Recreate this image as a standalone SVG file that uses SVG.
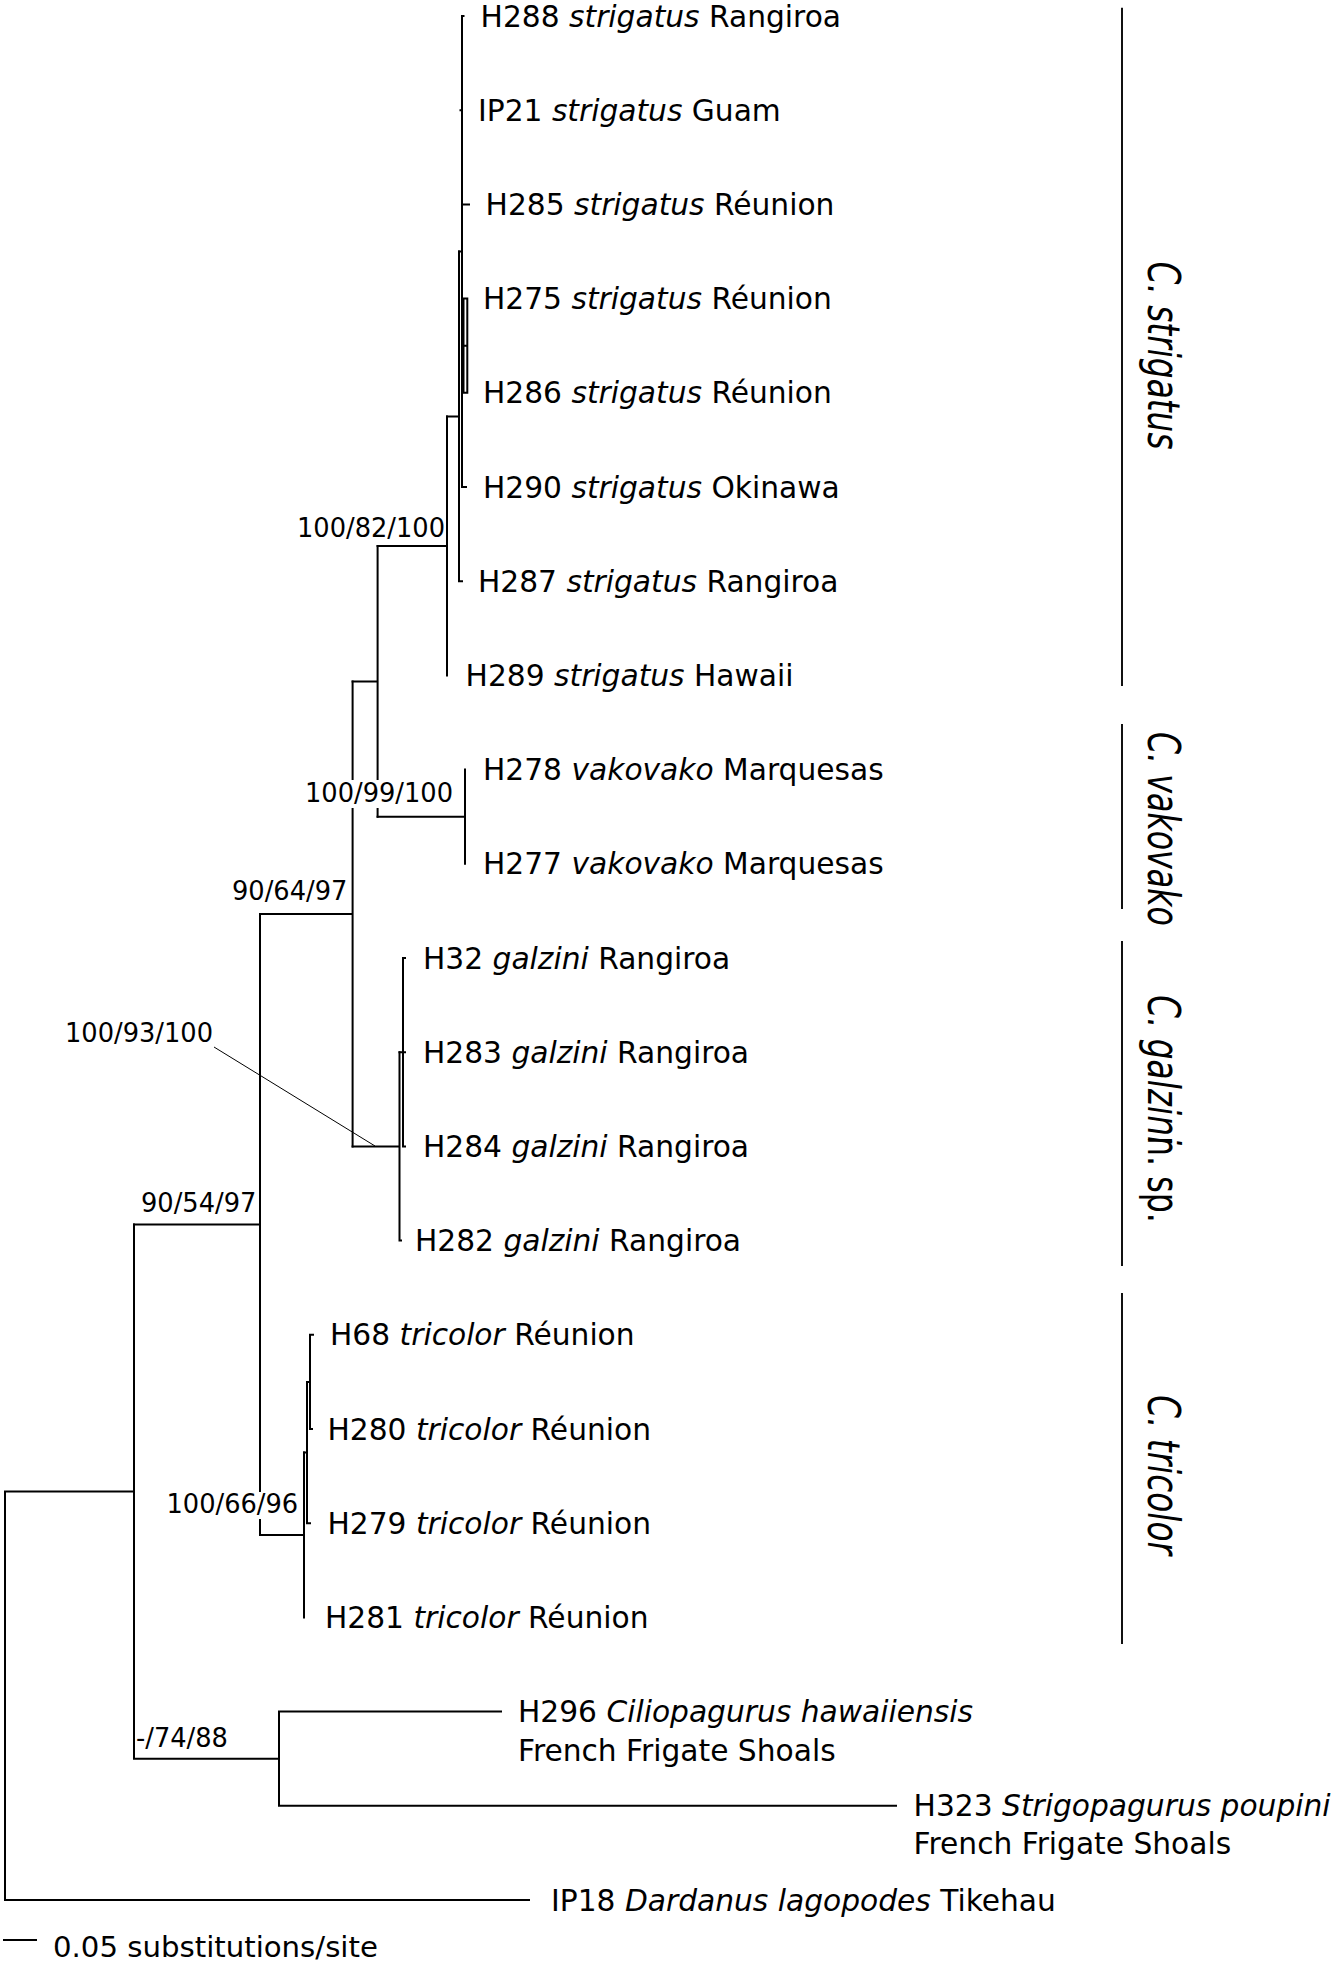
<svg xmlns="http://www.w3.org/2000/svg" width="1334" height="1968" viewBox="0 0 1334 1968">
<style>
text{font-family:"DejaVu Sans","Liberation Sans",sans-serif;fill:#000}
.tip{font-size:29.7px}
.sc{font-size:29.2px}
.sup{font-size:25.7px}
.i{font-style:italic}
.clade{font-size:44px;font-style:italic}
.up{font-style:normal}
.br{fill:none;stroke:#000;stroke-width:2;stroke-linecap:square}
.bar{fill:none;stroke:#111;stroke-width:2}
.lead{fill:none;stroke:#000;stroke-width:1}
.mask{fill:#fff;stroke:none}
</style>
<rect width="1334" height="1968" fill="#fff"/>
<g id="connectors">
<path class="br" d="M5,1491.5 V1900 H529 M5,1491.5 H134"/>
<path class="br" d="M134,1224.4 V1758.7 M134,1758.7 H279 M279,1711.6 V1805.8 M279,1711.6 H501 M279,1805.8 H896"/>
<path class="br" d="M134,1224.4 H260 M260,913.9 V1535"/>
<path class="br" d="M260,1535 H304 M304,1452.5 V1617.4"/>
<path class="br" d="M304,1452.5 H307 M307,1381.9 V1523.2 M307,1523.2 H310"/>
<path class="br" d="M307,1381.9 H310 M310,1334.8 V1429 M310,1334.8 H313 M310,1429 H312"/>
<path class="br" d="M260,913.9 H352.6 M352.6,681.4 V1146.4"/>
<path class="br" d="M352.6,1146.4 H399.5 M399.5,1052.2 V1240.6 M399.5,1240.6 H401"/>
<path class="br" d="M399.5,1052.2 H403 M403,958 V1146.4 M403,958 H405 M403,1052.2 H405 M403,1146.4 H405"/>
<path class="br" d="M352.6,681.4 H377.6 M377.6,546 V816.7"/>
<path class="br" d="M377.6,816.7 H465 M465,769.6 V863.8"/>
<path class="br" d="M377.6,546 H447 M447,416.5 V675.4"/>
<path class="br" d="M447,416.5 H459 M459,251.5 V581.2 M459,581.2 H462"/>
<path class="br" d="M459,251.5 H462 M462,16 V487 M462,16 H463.5 M460.5,110.2 H462 M462,204.4 H469 M462,487 H466"/>
<path class="br" d="M462,345.7 H467.3 M463.5,298.6 V392.8 M467.3,298.6 V392.8 M463.5,298.6 H467.3 M463.5,392.8 H467.3"/>
<path class="lead" d="M214,1047 L375,1146"/>
</g>
<g id="tips">
<g id="t-H288"><text class="tip" x="480.6" y="26.5">H288 <tspan class="i">strigatus</tspan> Rangiroa</text></g>
<g id="t-IP21"><text class="tip" x="478" y="120.7">IP21 <tspan class="i">strigatus</tspan> Guam</text></g>
<g id="t-H285"><text class="tip" x="485.6" y="214.9">H285 <tspan class="i">strigatus</tspan> Réunion</text></g>
<g id="t-H275"><text class="tip" x="483" y="309.1">H275 <tspan class="i">strigatus</tspan> Réunion</text></g>
<g id="t-H286"><text class="tip" x="483" y="403.3">H286 <tspan class="i">strigatus</tspan> Réunion</text></g>
<g id="t-H290"><text class="tip" x="483" y="497.5">H290 <tspan class="i">strigatus</tspan> Okinawa</text></g>
<g id="t-H287"><text class="tip" x="478" y="591.7">H287 <tspan class="i">strigatus</tspan> Rangiroa</text></g>
<g id="t-H289"><text class="tip" x="465.6" y="685.9">H289 <tspan class="i">strigatus</tspan> Hawaii</text></g>
<g id="t-H278"><text class="tip" x="483" y="780.1">H278 <tspan class="i">vakovako</tspan> Marquesas</text></g>
<g id="t-H277"><text class="tip" x="483" y="874.3">H277 <tspan class="i">vakovako</tspan> Marquesas</text></g>
<g id="t-H32"><text class="tip" x="423" y="968.5">H32 <tspan class="i">galzini</tspan> Rangiroa</text></g>
<g id="t-H283"><text class="tip" x="423" y="1062.7">H283 <tspan class="i">galzini</tspan> Rangiroa</text></g>
<g id="t-H284"><text class="tip" x="423" y="1156.9">H284 <tspan class="i">galzini</tspan> Rangiroa</text></g>
<g id="t-H282"><text class="tip" x="415" y="1251.1">H282 <tspan class="i">galzini</tspan> Rangiroa</text></g>
<g id="t-H68"><text class="tip" x="330" y="1345.3">H68 <tspan class="i">tricolor</tspan> Réunion</text></g>
<g id="t-H280"><text class="tip" x="327.5" y="1439.5">H280 <tspan class="i">tricolor</tspan> Réunion</text></g>
<g id="t-H279"><text class="tip" x="327.5" y="1533.7">H279 <tspan class="i">tricolor</tspan> Réunion</text></g>
<g id="t-H281"><text class="tip" x="325" y="1627.9">H281 <tspan class="i">tricolor</tspan> Réunion</text></g>
<g id="t-H296"><text class="tip" x="518" y="1721.5">H296 <tspan class="i">Ciliopagurus hawaiiensis</tspan></text><text class="tip" x="518" y="1761">French Frigate Shoals</text></g>
<g id="t-H323"><text class="tip" x="913.6" y="1815.5">H323 <tspan class="i">Strigopagurus poupini</tspan></text><text class="tip" x="913.6" y="1853.5">French Frigate Shoals</text></g>
<g id="t-IP18"><text class="tip" x="551" y="1910.5">IP18 <tspan class="i">Dardanus lagopodes</tspan> Tikehau</text></g>
</g>
<g id="support">
<text class="sup" x="297" y="536.7">100/82/100</text>
<rect class="mask" x="303" y="780" width="151" height="28"/>
<text class="sup" x="305" y="802">100/99/100</text>
<text class="sup" x="232" y="900">90/64/97</text>
<text class="sup" x="65" y="1041.7">100/93/100</text>
<text class="sup" x="141" y="1211.7">90/54/97</text>
<rect class="mask" x="165" y="1492" width="132" height="27"/>
<text class="sup" x="166.5" y="1513">100/66/96</text>
<text class="sup" x="136" y="1746.7">-/74/88</text>
</g>
<g id="clades">
<g id="c-strigatus"><path class="bar" d="M1122,7.7 V686"/><text class="clade" transform="translate(1148,261.5) rotate(90) scale(0.746,1)">C. strigatus</text></g>
<g id="c-vakovako"><path class="bar" d="M1122,724 V909"/><text class="clade" transform="translate(1148,732) rotate(90) scale(0.72,1)">C. vakovako</text></g>
<g id="c-galzini"><path class="bar" d="M1122,941 V1266"/><text class="clade" transform="translate(1148,995) rotate(90) scale(0.746,1)">C. galzini</text><text class="clade up" transform="translate(1148,1136) rotate(90) scale(0.72,1)">n. sp.</text></g>
<g id="c-tricolor"><path class="bar" d="M1122,1293 V1644"/><text class="clade" transform="translate(1148,1395) rotate(90) scale(0.746,1)">C. tricolor</text></g>
</g>
<g id="scale">
<path class="br" d="M4,1940 H36"/>
<text class="sc" x="53" y="1956.5">0.05 substitutions/site</text>
</g>
</svg>
